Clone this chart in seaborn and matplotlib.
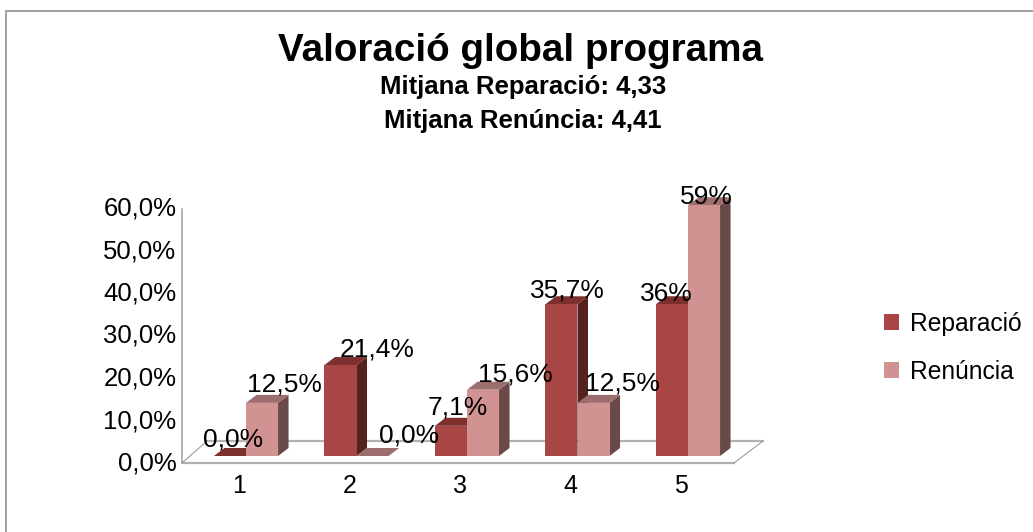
import matplotlib
matplotlib.use("Agg")
import matplotlib.pyplot as plt
import matplotlib.transforms as mtrans
from matplotlib.patches import Polygon
from matplotlib.lines import Line2D
import pandas as pd
import seaborn as sns

categories = ["1", "2", "3", "4", "5"]
reparacio = [0.0, 21.4, 7.1, 35.7, 35.7]
renuncia = [12.5, 0.0, 15.6, 12.5, 59.0]
reparacio_labels = ["0,0%", "21,4%", "7,1%", "35,7%", "36%"]
renuncia_labels = ["12,5%", "0,0%", "15,6%", "12,5%", "59%"]
y_ticks = [0, 10, 20, 30, 40, 50, 60]
y_tick_labels = ["0,0%", "10,0%", "20,0%", "30,0%", "40,0%", "50,0%", "60,0%"]
series_names = ["Reparació", "Renúncia"]

# label nudges in pixels, relative to the top centre of each bar
reparacio_nudge = [(3, 17), (37, 16), (7, 18), (6, 14), (-6, 10)]
renuncia_nudge = [(22, 18), (37, 21), (32, 15), (29, 19), (2, 8)]

W, H = 1033, 532
colors = {"Reparació": "#a84645", "Renúncia": "#d09392"}
top_colors = {"Reparació": "#7d2f2e", "Renúncia": "#9c6e6d"}
side_colors = {"Reparació": "#552220", "Renúncia": "#6a4a48"}
GREY = "#b2b2b2"

df = pd.DataFrame({
    "cat": categories * 2,
    "serie": [series_names[0]] * 5 + [series_names[1]] * 5,
    "val": reparacio + renuncia,
})

sns.set_theme(style="white")
plt.rcParams["font.family"] = ["Liberation Sans", "DejaVu Sans"]

fig = plt.figure(figsize=(W / 100, H / 100), dpi=100)

# axes placed so one category is 110.5 px and 1% is 4.25 px
left, right, bottom, top = 182, 763, 463, 190
ax = fig.add_axes([left / W, 1 - bottom / H, (right - left) / W, (bottom - top) / H])
ax.patch.set_visible(False)
px_cat, px_pct = 110.5, 4.25

sns.barplot(data=df, x="cat", y="val", hue="serie", order=categories, hue_order=series_names,
            palette=colors, width=0.58, gap=0, saturation=1, linewidth=0, legend=False, ax=ax)
ax.set_xlim((left - 246) / px_cat, (right - 246) / px_cat)
ax.set_ylim((456 - bottom) / px_pct, (456 - top) / px_pct)
ax.set_xlabel("")
ax.set_ylabel("")
sns.despine(ax=ax, left=True, bottom=True)

# depth of the fake 3D bars, Renúncia stacks over Reparació's side face
dx, dy = 10.5 / px_cat, 8 / px_pct
texts = [reparacio_labels, renuncia_labels]
nudges = [reparacio_nudge, renuncia_nudge]
for s, name in enumerate(series_names):
    z = 1.1 + s * 0.3
    for i, bar in enumerate(ax.containers[s]):
        x0, x1 = bar.get_x(), bar.get_x() + bar.get_width()
        h = bar.get_height()
        bar.set_zorder(z + 0.2)
        ax.add_patch(Polygon([(x0, h), (x1, h), (x1 + dx, h + dy), (x0 + dx, h + dy)],
                             fc=top_colors[name], ec="none", zorder=z + 0.1))
        if h > 0:
            ax.add_patch(Polygon([(x1, 0), (x1 + dx, dy), (x1 + dx, h + dy), (x1, h)],
                                 fc=side_colors[name], ec="none", zorder=z))
        ax.annotate(texts[s][i], xy=((x0 + x1) / 2, h), xytext=nudges[s][i], textcoords="offset pixels",
                    ha="center", va="center", fontsize=19, color="black", zorder=5)

# floor and y axis line, in figure pixels
def px_line(xs, ys, lw, color=GREY):
    ax.add_line(Line2D([x / W for x in xs], [1 - y / H for y in ys], transform=fig.transFigure,
                       color=color, lw=lw, clip_on=False, zorder=0.5))

px_line([182, 182], [209, 463], 1.4)
px_line([182, 734], [463, 463], 1.6)
px_line([207, 763], [441, 441], 1.6)
px_line([182, 207], [463, 441], 0.7, "#909090")
px_line([734, 763], [463, 441], 0.7, "#909090")

ax.set_yticks(y_ticks)
ax.set_yticklabels(y_tick_labels)
ax.tick_params(axis="y", length=0, pad=4, labelsize=18.5, labelcolor="black")
ax.tick_params(axis="x", length=0, pad=8, labelsize=18, labelcolor="black")
y_shift = mtrans.ScaledTranslation(0, -5 / 100, fig.dpi_scale_trans)
for lab in ax.get_yticklabels():
    lab.set_transform(lab.get_transform() + y_shift)
x_shift = mtrans.ScaledTranslation(-7 / 100, 0, fig.dpi_scale_trans)
for lab in ax.get_xticklabels():
    lab.set_transform(lab.get_transform() + x_shift)

handles = [plt.Rectangle((0, 0), 1, 1, fc=colors[n], ec="none") for n in series_names]
fig.legend(handles, series_names, loc="upper left", bbox_to_anchor=(884 / W, 1 - 312 / H), frameon=False,
           fontsize=17.7, handlelength=0.62, handleheight=0.62, handletextpad=0.42, labelspacing=0.98,
           borderpad=0, borderaxespad=0, labelcolor="black")

fig.text(520 / W, 1 - 61 / H, "Valoració global programa", ha="center", va="baseline",
         fontsize=27.8, fontweight="bold", color="black")
fig.text(523 / W, 1 - 94 / H, "Mitjana Reparació: 4,33", ha="center", va="baseline",
         fontsize=18.5, fontweight="bold", color="black")
fig.text(523 / W, 1 - 128 / H, "Mitjana Renúncia: 4,41", ha="center", va="baseline",
         fontsize=18.5, fontweight="bold", color="black")

# only the top and left chart border show
fig.add_artist(Line2D([6 / W, 6 / W], [0, 1 - 11 / H], color="#a0a0a0", lw=1.4))
fig.add_artist(Line2D([6 / W, 1], [1 - 11 / H, 1 - 11 / H], color="#a0a0a0", lw=1.4))

fig.savefig("out.png", dpi=100)
